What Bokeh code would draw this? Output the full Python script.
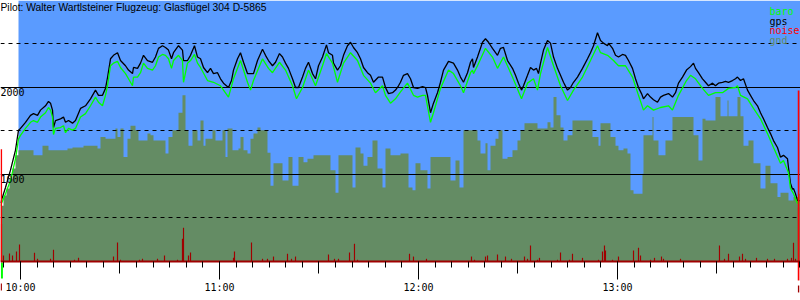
from bokeh.plotting import figure
from bokeh.models import LinearAxis, FixedTicker, Grid, Range1d, Label
from bokeh.core.properties import value
from bokeh.embed import file_html
from bokeh.resources import INLINE

# ---------------- data (time in minutes after 10:00, altitude in m) ----------------
title_text = "Pilot: Walter Wartlsteiner Flugzeug: Glasflügel 304 D-5865"

gps_time = [-6.03, -4.52, -3.02, -1.51, -0.60, 0.0, 1.51, 3.02, 3.92, 5.13, 6.03, 7.54, 8.44, 9.05, 9.65, 9.95,
            10.55, 12.06, 12.97, 13.57, 14.47, 15.68, 16.58, 18.09, 19.60, 21.11, 22.61, 23.52, 24.72, 25.63,
            26.23, 27.14, 28.04, 29.25, 30.15, 31.66, 32.56, 33.77, 34.07, 35.28, 36.18, 37.09, 38.29, 39.80,
            40.70, 41.61, 42.81, 43.72, 44.62, 45.53, 46.13, 47.64, 48.84, 49.15, 50.35, 51.26, 52.46, 53.37,
            54.27, 55.18, 56.38, 57.29, 58.19, 59.40, 60.30, 61.21, 62.71, 63.62, 64.22, 65.43, 66.33, 67.24,
            68.44, 69.35, 70.25, 71.46, 72.97, 73.87, 74.77, 75.98, 76.89, 78.09, 79.00, 79.90, 80.80, 82.01,
            82.92, 83.82, 85.03, 85.93, 86.83, 88.04, 88.95, 89.85, 91.06, 92.26, 92.86, 94.07, 94.37, 95.58,
            96.48, 97.39, 98.59, 99.50, 100.40, 101.61, 102.51, 103.42, 104.62, 105.53, 106.43, 107.94, 109.15,
            110.05, 110.96, 112.16, 113.07, 113.97,
            114.57, 115.48, 116.68, 117.59, 118.49, 119.70, 121.21, 122.11, 122.71, 123.62, 124.52, 125.73,
            126.63, 127.54, 129.05, 130.55, 131.76, 132.66, 133.57, 134.78, 135.68, 136.28, 136.58, 137.79,
            139.30, 140.20, 141.11, 142.31, 143.82, 144.72, 145.63, 146.84, 148.34, 149.25, 150.15, 151.06,
            151.66, 152.87, 153.77, 154.68, 155.58, 156.18, 156.79, 157.69, 158.90, 159.80, 160.71, 161.91,
            162.82, 163.72, 164.93, 165.83, 166.74, 167.94, 169.45, 170.96, 171.86, 172.77, 173.97,
            174.88, 175.78, 176.99, 177.29, 178.50, 179.40, 180.30, 181.51, 182.41, 183.32, 184.52, 185.43,
            186.33, 187.24, 187.84, 189.05, 189.95, 190.86, 192.06, 192.97, 193.87, 195.38, 196.58, 197.49,
            198.39, 199.60, 200.81, 202.01, 202.92, 203.52, 204.42, 205.63, 206.53, 207.44, 208.65, 209.55,
            210.45, 211.66, 212.56, 213.47, 214.68, 215.58, 216.18, 217.09, 217.99, 219.20, 220.10, 221.01,
            222.21, 223.12, 224.02, 225.23, 226.13, 227.04, 228.24, 229.15, 230.05, 231.26, 231.56, 232.16,
            232.77, 233.07, 233.67, 234.27, 234.88]
gps_alt = [670, 850, 1050, 1280, 1510, 1530, 1600, 1680, 1700, 1680, 1740, 1790, 1840, 1820, 1740, 1540,
           1620, 1640, 1660, 1600, 1620, 1590, 1620, 1760, 1790, 1870, 1970, 1910, 1910, 1990,
           2110, 2330, 2370, 2400, 2310, 2250, 2200, 2160, 2230, 2220, 2280, 2370, 2310, 2290,
           2350, 2450, 2480, 2460, 2430, 2330, 2400, 2480, 2430, 2310, 2310, 2370, 2480, 2350,
           2330, 2230, 2170, 2220, 2160, 2170, 2100, 2050, 2000, 2080, 2200, 2330, 2400, 2290,
           2160, 2160, 2160, 2310, 2440, 2370, 2310, 2250, 2290, 2390, 2350, 2280, 2220, 2100,
           2000, 2000, 2120, 2220, 2290, 2160, 2100, 2250, 2350, 2490, 2400, 2370, 2280, 2200,
           2250, 2370, 2480, 2520, 2460, 2400, 2330, 2230, 2170, 2140, 2060, 2120, 2120,
           2000, 1930, 1940, 1970, 2020,
           2060, 2140, 2160, 2100, 2000, 1990, 2010, 2000, 1910, 1710, 1820, 1940,
           2060, 2200, 2300, 2280, 2200, 2120, 2060, 2170, 2290, 2330, 2230, 2350,
           2520, 2560, 2520, 2450, 2370, 2450, 2460, 2310, 2220, 2140, 2050, 1970,
           2020, 2140, 2230, 2200, 2220, 2160, 2280, 2430, 2540, 2510, 2350, 2220,
           2140, 2060, 1970, 2000, 2060, 2120, 2220, 2330, 2400, 2480, 2630,
           2540, 2510, 2480, 2510, 2450, 2370, 2350, 2380, 2370, 2310, 2220, 2100,
           2000, 1930, 1870, 1930, 1890, 1860, 1830, 1890, 1910, 1930, 1890, 1940,
           2050, 2120, 2200, 2240, 2280, 2220, 2170, 2100, 2060, 2020, 2050, 2020,
           2050, 2060, 2070, 2060, 2080, 2100, 2120, 2080, 2100, 1970, 1910, 1850,
           1790, 1710, 1640, 1540, 1470, 1390, 1310, 1200, 1220, 1180, 1080, 900,
           830, 840, 780, 700, 700]

baro_time = [-6.03, -4.52, -3.02, -1.51, -0.60, 0.0, 1.51, 3.02, 3.92, 5.13, 6.03, 7.54, 8.44, 9.05, 9.65, 9.95,
             10.55, 12.06, 12.97, 13.57, 14.47, 15.68, 16.58, 18.09, 19.60, 21.11, 22.61, 23.52, 24.72, 25.63,
             26.23, 27.14, 28.04, 29.25, 30.15, 31.66, 32.56, 33.77, 34.07, 35.28, 36.18, 37.09, 38.29, 39.80,
             40.70, 41.61, 42.81, 43.72, 44.62, 45.53, 46.13, 47.64, 48.84, 49.15, 50.35, 51.26, 52.46, 53.37,
             54.27, 56.38, 58.19, 60.30, 62.71, 64.22, 66.33, 68.44, 69.35, 70.25, 72.97, 74.77, 75.98, 78.09,
             79.90, 82.01, 83.22, 85.03, 86.83, 88.95, 91.06, 92.26, 94.07, 95.58, 97.39, 99.50, 101.61, 103.42,
             105.53, 107.04, 109.15, 110.05, 111.56, 113.07,
             114.57, 116.68, 118.49, 119.70, 121.21, 122.11, 123.62, 124.52, 126.63, 129.05, 130.55, 132.66,
             133.57, 135.68, 136.28, 136.58, 137.79, 140.20, 142.31, 143.82, 145.63, 148.34, 151.06, 152.87,
             154.68, 155.88, 156.79, 158.90, 160.71, 162.82, 164.93, 166.74, 169.45, 171.86, 173.97,
             174.88, 176.99, 178.80, 180.30, 182.41, 184.52, 186.33, 187.84, 189.05, 190.86, 192.97, 195.38,
             196.58, 198.39, 200.81, 202.01, 203.52, 205.63, 207.44, 209.55, 211.66, 213.47, 215.58, 216.18,
             217.09, 219.20, 221.01, 223.12, 225.23, 227.04, 229.15, 230.05, 231.56, 232.16, 233.07, 234.27,
             234.88]
baro_alt = [640, 780, 930, 1180, 1410, 1450, 1530, 1600, 1620, 1600, 1660, 1710, 1770, 1740, 1660, 1460,
            1530, 1540, 1560, 1480, 1530, 1510, 1530, 1660, 1700, 1790, 1890, 1830, 1790, 1910,
            2020, 2250, 2280, 2300, 2230, 2160, 2100, 2020, 2120, 2120, 2170, 2280, 2220, 2200,
            2250, 2350, 2380, 2370, 2330, 2220, 2310, 2370, 2310, 2060, 2280, 2310, 2380, 2280,
            2230, 2080, 2060, 2020, 1890, 2100, 2310, 2060, 1970, 2080, 2330, 2220, 2170, 2290,
            2200, 2020, 1870, 2000, 2200, 2020, 2250, 2390, 2280, 2060, 2280, 2400, 2310, 2140,
            2050, 1940, 2020, 1910, 1820, 1870,
            1950, 2050, 1910, 1890, 1910, 1910, 1600, 1710, 1990, 2200, 2160, 2020,
            1940, 2170, 2200, 2160, 2250, 2450, 2350, 2220, 2350, 2120, 1870, 2050,
            2100, 1970, 2160, 2460, 2250, 2020, 1850, 1970, 2120, 2310, 2480,
            2400, 2370, 2310, 2250, 2250, 2120, 1910, 1740, 1790, 1740, 1770, 1790,
            1740, 1910, 2080, 2140, 2100, 1990, 1910, 1940, 1940, 1990, 2000, 2020,
            1910, 1870, 1760, 1640, 1470, 1310, 1130, 1160, 1020, 840, 780, 670,
            670]

gnd_time = [-6.03, -5.13, -4.22, -3.32, -2.41, -1.51, -0.60, 3.92, 6.63, 8.44, 14.17, 15.68, 19.00, 23.22,
            24.12, 25.63, 28.64, 29.25, 30.15, 31.06, 32.26, 33.17, 34.67, 35.58, 38.29, 39.20, 40.10, 43.72,
            44.62, 45.83, 47.64, 48.84, 49.75, 50.65, 51.86, 53.37, 54.27, 55.18, 55.78, 57.89, 58.79, 60.91,
            61.81, 62.41, 63.92, 65.73, 66.33, 67.24, 68.44, 69.35, 70.25, 71.46, 72.36, 74.47, 75.38, 76.28,
            79.00, 80.80, 82.01, 83.82, 85.33, 86.53, 88.34, 93.47, 94.98, 95.88, 100.10, 101.01, 102.51,
            103.42, 104.62, 106.13, 107.64, 109.15, 110.05, 111.56, 114.57, 116.99, 118.19, 119.10, 120.60,
            122.71, 123.62, 129.65, 131.16, 132.36, 133.57, 137.79, 138.69, 140.20, 140.81, 141.71, 143.22,
            144.12, 145.33, 146.84, 148.34, 149.85, 150.76, 151.96, 155.88, 158.90, 159.80, 160.71, 161.61,
            162.82, 163.72, 164.93, 166.43, 172.46, 174.27, 174.88, 177.89, 179.40, 180.30, 181.81, 183.01,
            183.92, 184.83, 187.54, 187.84, 190.56, 190.86, 192.36, 194.47, 196.58, 202.92, 204.42, 205.63,
            206.53, 209.55, 211.06, 213.17, 213.47, 216.18, 217.09, 217.99, 219.50, 221.01, 223.12, 224.62,
            226.13, 228.24, 229.15, 231.56, 233.07, 234.58, 235.18]
gnd_alt = [640, 760, 840, 950, 1070, 1220, 1280, 1220, 1330, 1280, 1300, 1310, 1330, 1300,
           1430, 1410, 1530, 1430, 1530, 1200, 1410, 1560, 1510, 1390, 1470, 1450, 1390, 1240,
           1430, 1510, 1710, 1910, 1510, 1330, 1510, 1390, 1620, 1330, 1410, 1510, 1390, 1510,
           1200, 1530, 1280, 1300, 1430, 1280, 1240, 1410, 1470, 1540, 1510, 1250, 870, 1130,
           930, 1200, 870, 1200, 1140, 1180, 1220, 1050, 790, 1220, 850, 1310, 1240,
           1100, 1200, 1390, 1070, 850, 1300, 1220, 1240, 850, 820, 1130, 1050,
           840, 1200, 930, 1160, 850, 1510, 1390, 1240, 1360, 1050, 1330, 1410,
           1510, 1180, 1200, 1280, 1390, 1510, 1590, 1530, 1600, 1540, 1890, 1680,
           1540, 1390, 1450, 1620, 1430, 1330, 1590, 1430, 1330, 1280, 1300, 1240,
           820, 780, 1010, 1450, 1660, 1390, 1220, 1390, 1660, 1450, 1160, 1640,
           1620, 1890, 1670, 1850, 1670, 1890, 1670, 1330, 1390, 1130, 840, 1100,
           900, 740, 790, 700, 740, 780, 780]

noise_time = [-5.73, -5.13, -3.32, -2.41, -1.21, -0.30, 4.22, 5.13, 9.05, 9.95, 16.28, 17.49, 28.04, 29.25,
              30.15, 35.88, 36.78, 41.31, 43.42, 47.34, 48.84, 49.15, 50.65, 51.26, 64.22, 64.52, 69.65,
              72.97, 74.47, 76.28, 80.50, 81.71, 82.92, 92.86, 94.67, 95.88, 99.20, 100.70, 101.61, 117.29,
              118.49, 122.41, 135.98, 136.89, 140.20, 140.81, 143.82, 146.23, 148.04, 151.96, 152.87, 153.77,
              155.88, 156.48, 161.91, 162.82, 165.53, 166.43, 169.45, 174.27, 175.48, 176.08, 176.38, 178.50,
              180.30, 184.83, 186.33, 186.94, 189.95, 191.16, 193.27, 193.87, 199.00, 210.75, 212.26, 213.47,
              216.79, 217.69, 218.60, 221.91, 225.23, 227.34, 231.26, 232.46, 233.07, 233.67, 234.58]
noise_val = [433, 69, 92, 69, 115, 195, 100, 31, 31, 134, 20, 42, 57, 218,
             20, 20, 31, 31, 69, 20, 261, 387, 69, 103, 42, 115, 218,
             31, 31, 57, 88, 31, 57, 80, 31, 31, 103, 203, 20, 88,
             57, 31, 57, 20, 57, 69, 80, 57, 31, 57, 31, 184,
             20, 42, 20, 103, 20, 88, 42, 20, 115, 184, 126, 20,
             57, 126, 157, 69, 20, 42, 57, 31, 31, 184, 31, 88,
             57, 88, 31, 42, 31, 31, 31, 42, 215, 31, 620]

sky_start = -0.60          # blue sky begins here
takeoff_time = -5.8
landing_time = 234.6
takeoff_alt = 1290
landing_alt = 1965

hour_ticks = [0, 60, 120, 180]
hour_labels = ["10:00", "11:00", "12:00", "13:00"]
half_ticks = [30, 90, 150, 210]
five_min_ticks = list(range(-5, 236, 5))
solid_levels = [1000, 2000]
dashed_levels = [500, 1500, 2500]
alt_labels = ["1000", "2000"]

legend_names = ["baro", "gps", "noise", "gnd"]

# ---------------- styling ----------------
BLUE = "#5a9bff"
OLIVE = "#648c64"
NOISE = "#a00000"
BARO = "#00ff00"
MONO = "DejaVu Sans Mono"

T0, T1 = -6.03, 235.18
Y0, Y1 = -448.3, 3000.0

p = figure(width=800, height=300, x_range=Range1d(T0, T1), y_range=Range1d(Y0, Y1),
           x_axis_type=None, y_axis_type=None, toolbar_location=None,
           output_backend="svg", min_border=0)
p.outline_line_color = None
p.background_fill_color = "white"
p.border_fill_color = "white"
p.xgrid.visible = False
p.ygrid.visible = False

# sky and ground (drawn under the grid)
p.quad(left=[sky_start], right=[T1], bottom=[0], top=[Y1], fill_color=BLUE, line_color=None, level="image")
p.varea_step(x=gnd_time, y1=[0] * len(gnd_time), y2=gnd_alt, step_mode="after",
             fill_color=OLIVE, level="image")

g1 = Grid(dimension=1, ticker=FixedTicker(ticks=solid_levels), grid_line_color="black", grid_line_width=1)
g2 = Grid(dimension=1, ticker=FixedTicker(ticks=dashed_levels), grid_line_color="black",
          grid_line_width=1, grid_line_dash="4 4")
p.add_layout(g1)
p.add_layout(g2)

# noise bars
p.vbar(x=noise_time, bottom=0, top=noise_val, width=0.35, fill_color=NOISE, line_color=None)

# curves
p.line(gps_time, gps_alt, line_color="black", line_width=1.3)
p.line(baro_time, baro_alt, line_color=BARO, line_width=1.3)

# takeoff / landing markers
p.vbar(x=[takeoff_time, landing_time], bottom=[0, -218], top=[takeoff_alt, landing_alt],
       width=0.5, fill_color="#ff0000", line_color=None)
p.vbar(x=[takeoff_time + 0.2], bottom=[-195], top=[-12], width=0.6, fill_color=BARO, line_color=None)
p.vbar(x=[takeoff_time, landing_time], bottom=[-333, -356], top=[-253, -276], width=0.4,
       fill_color=NOISE, line_color=None)

# altitude labels
p.text(x=[T0, T0], y=solid_levels, text=alt_labels, text_font=value(MONO), text_font_size="10px",
       text_baseline="top", text_align="left", text_color="black", y_offset=1)


def time_axis(ticks, tick_out, labels=None, line_color=None):
    ax = LinearAxis(fixed_location=0, ticker=FixedTicker(ticks=ticks, minor_ticks=[]))
    ax.major_tick_in = 0
    ax.major_tick_out = tick_out
    ax.minor_tick_in = 0
    ax.minor_tick_out = 0
    ax.major_tick_line_color = "black"
    ax.axis_line_color = line_color
    ax.axis_line_width = 2
    if labels:
        ax.major_label_overrides = {t: l for t, l in zip(ticks, labels)}
        ax.major_label_text_font = MONO
        ax.major_label_text_font_size = "10px"
        ax.major_label_text_color = "black"
        ax.major_label_standoff = 3
    else:
        ax.major_label_text_color = None
    p.add_layout(ax, "below")


time_axis(five_min_ticks, 6, line_color=NOISE)
time_axis(half_ticks, 12)
time_axis(hour_ticks, 18, labels=hour_labels)

# title
p.add_layout(Label(x=0, y=300, x_units="screen", y_units="screen", text=title_text,
                   text_font="Liberation Sans", text_font_size="10.3px", text_baseline="top",
                   text_color="black", y_offset=-1))

# legend texts
legend_colors = [BARO, "black", "#ff0000", OLIVE]
for i, (name, col) in enumerate(zip(legend_names, legend_colors)):
    p.add_layout(Label(x=769, y=289 - i * 9.5, x_units="screen", y_units="screen", text=name,
                       text_font=MONO, text_font_size="10px", text_color=col,
                       text_baseline="alphabetic"))

open("out.html", "w").write(file_html(p, INLINE))
